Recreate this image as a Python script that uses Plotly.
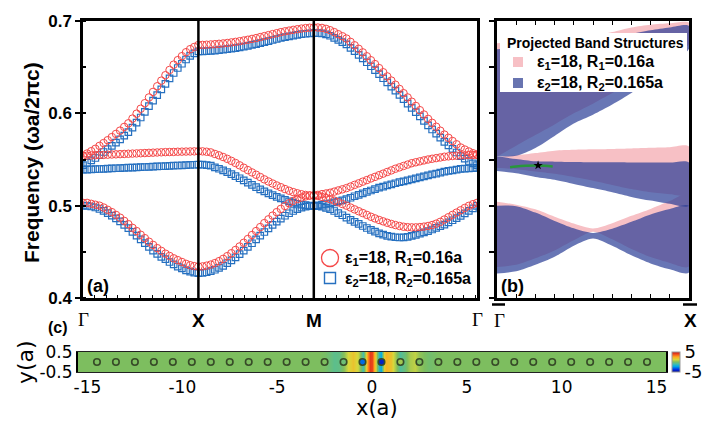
import numpy as np
import plotly.graph_objects as go

# ------------------------------------------------------------------ data
# (a) band structure along Gamma-X-M-Gamma (frequency in units of 2*pi*c/a)
sym_labels = ["Γ", "X", "M", "Γ"]
seg_len = [1.0, 1.0, float(np.sqrt(2.0))]
n_markers = [28, 28, 40]          # marker intervals per path segment

red_A_GX = [0.503, 0.503, 0.502, 0.501, 0.500, 0.498, 0.4955, 0.493, 0.490, 0.487, 0.4835, 0.480, 0.476, 0.4725, 0.4685,
            0.4648, 0.461, 0.4575, 0.454, 0.451, 0.448, 0.4455, 0.443, 0.441, 0.439, 0.437, 0.4355, 0.4345, 0.434]
red_A_XM = [0.4342, 0.4350, 0.4362, 0.4378, 0.4399, 0.4424, 0.4453, 0.4485, 0.4520, 0.4558, 0.4598, 0.4639, 0.4682, 0.4725,
            0.4768, 0.4811, 0.4852, 0.4892, 0.4930, 0.4965, 0.4997, 0.5026, 0.5051, 0.5072, 0.5088, 0.5100, 0.5108, 0.511]
red_A_MG = [0.5105, 0.5095, 0.5083, 0.507, 0.5055, 0.5037, 0.5018, 0.500, 0.498, 0.496, 0.494, 0.492, 0.490, 0.488, 0.4862,
            0.4845, 0.483, 0.4815, 0.4802, 0.479, 0.478, 0.4772, 0.4767, 0.4765, 0.4765, 0.4768, 0.4773, 0.478, 0.479, 0.4805,
            0.4825, 0.485, 0.4875, 0.490, 0.4925, 0.495, 0.4975, 0.4998, 0.5016, 0.503]
red_B_GX = [0.554, 0.5542, 0.5544, 0.5546, 0.5548, 0.555, 0.5552, 0.5554, 0.5556, 0.5558, 0.556, 0.5562, 0.5564, 0.5566, 0.5568,
            0.557, 0.5572, 0.5574, 0.5576, 0.5578, 0.558, 0.5581, 0.5582, 0.5584, 0.5585, 0.5586, 0.5587, 0.5588, 0.5589]
red_B_XM = [0.5588, 0.5584, 0.5577, 0.556, 0.5545, 0.5527, 0.5507, 0.5485, 0.5462, 0.5437, 0.5411, 0.5385, 0.536, 0.5335,
            0.531, 0.5285, 0.5262, 0.524, 0.5219, 0.520, 0.518, 0.5162, 0.5147, 0.5134, 0.5124, 0.5116, 0.5112, 0.511]
red_B_MG = [0.5117, 0.5125, 0.5132, 0.514, 0.5152, 0.5165, 0.5177, 0.519, 0.5207, 0.5225, 0.5242, 0.526, 0.5277, 0.5295,
            0.5312, 0.533, 0.5347, 0.5365, 0.5382, 0.540, 0.5415, 0.543, 0.5445, 0.546, 0.547, 0.548, 0.549, 0.550, 0.5508,
            0.5515, 0.5522, 0.553, 0.5534, 0.5538, 0.5541, 0.5545, 0.5546, 0.5548, 0.5549, 0.555]
red_C_GX = [0.554, 0.5565, 0.559, 0.5616, 0.5648, 0.5678, 0.5709, 0.5743, 0.5777, 0.5813, 0.5853, 0.5892, 0.5943, 0.5996,
            0.605, 0.611, 0.6172, 0.6232, 0.6293, 0.6354, 0.6413, 0.647, 0.6527, 0.6576, 0.6619, 0.6662, 0.6695, 0.6719, 0.674]
red_C_XM = [0.6741, 0.6743, 0.6746, 0.6749, 0.6753, 0.6757, 0.6762, 0.6768, 0.6774, 0.6781, 0.6789, 0.6797, 0.6806, 0.6815,
            0.6826, 0.6836, 0.6847, 0.6858, 0.6868, 0.6879, 0.6888, 0.6896, 0.6904, 0.6911, 0.6918, 0.6923, 0.6927, 0.693]
red_C_MG = [0.6929, 0.6925, 0.6915, 0.690, 0.688, 0.6857, 0.6835, 0.681, 0.6774, 0.6737, 0.6699, 0.666, 0.6618, 0.6575,
            0.6533, 0.649, 0.6445, 0.640, 0.6355, 0.631, 0.6264, 0.6218, 0.6172, 0.6126, 0.608, 0.6034, 0.5987, 0.594, 0.5897,
            0.5855, 0.5812, 0.577, 0.5735, 0.570, 0.5665, 0.563, 0.5608, 0.5587, 0.5568, 0.5555]

blue_A_GX = [0.500, 0.4998, 0.4991, 0.498, 0.4964, 0.4944, 0.492, 0.4893, 0.4863, 0.4829, 0.4793, 0.4756, 0.4716, 0.4676,
             0.4635, 0.4594, 0.4554, 0.4514, 0.4477, 0.4445, 0.442, 0.439, 0.4365, 0.434, 0.432, 0.430, 0.4285, 0.4275, 0.427]
blue_A_XM = [0.4272, 0.4279, 0.429, 0.4306, 0.4326, 0.4349, 0.4377, 0.4407, 0.444, 0.4476, 0.4514, 0.4553, 0.4593, 0.4634,
             0.4675, 0.4715, 0.4754, 0.4791, 0.4827, 0.486, 0.4891, 0.4918, 0.4942, 0.4962, 0.4978, 0.4989, 0.4996, 0.4998]
blue_A_MG = [0.4995, 0.4988, 0.4976, 0.4961, 0.4942, 0.492, 0.4896, 0.4871, 0.4847, 0.4824, 0.4802, 0.478, 0.4758, 0.4738,
             0.4718, 0.470, 0.4686, 0.4673, 0.4664, 0.4658, 0.4655, 0.4656, 0.4662, 0.4672, 0.4684, 0.4697, 0.4711, 0.4725,
             0.4742, 0.4759, 0.4777, 0.4795, 0.4818, 0.4842, 0.4866, 0.489, 0.4917, 0.4944, 0.497, 0.4997]
blue_B_GX = [0.539, 0.5391, 0.5393, 0.5395, 0.5397, 0.5399, 0.5401, 0.5403, 0.5405, 0.5407, 0.5409, 0.5411, 0.5413, 0.5415,
             0.5417, 0.5419, 0.5421, 0.5423, 0.5425, 0.5427, 0.5429, 0.5431, 0.5433, 0.5435, 0.5437, 0.5439, 0.5441, 0.5443, 0.5445]
blue_B_XM = [0.5444, 0.544, 0.5433, 0.5414, 0.54, 0.5382, 0.5363, 0.5342, 0.532, 0.5297, 0.5273, 0.5249, 0.5225, 0.52,
             0.5177, 0.5155, 0.5134, 0.5114, 0.5095, 0.5078, 0.5062, 0.5047, 0.5033, 0.5021, 0.5012, 0.5005, 0.5, 0.4998]
blue_B_MG = [0.5004, 0.5011, 0.5018, 0.5025, 0.5036, 0.5047, 0.5058, 0.507, 0.5086, 0.5102, 0.5117, 0.5133, 0.5149, 0.5164,
             0.518, 0.5195, 0.5207, 0.5219, 0.5231, 0.5243, 0.5254, 0.5264, 0.5275, 0.5285, 0.5296, 0.5307, 0.5317, 0.5328,
             0.5338, 0.5348, 0.5358, 0.5368, 0.5376, 0.5383, 0.5391, 0.5398, 0.5401, 0.5404, 0.5407, 0.541]
blue_C_GX = [0.544, 0.5465, 0.549, 0.5516, 0.5548, 0.5581, 0.5613, 0.5648, 0.5683, 0.5719, 0.5758, 0.5797, 0.5846, 0.5899,
             0.5955, 0.6015, 0.6077, 0.6138, 0.6198, 0.6259, 0.6319, 0.6378, 0.6437, 0.6491, 0.6537, 0.6583, 0.6622, 0.6649, 0.667]
blue_C_XM = [0.6671, 0.6674, 0.6677, 0.668, 0.6685, 0.6689, 0.6695, 0.6701, 0.6707, 0.6715, 0.6723, 0.6731, 0.6741, 0.675,
             0.6761, 0.6772, 0.6783, 0.6794, 0.6805, 0.6816, 0.6826, 0.6834, 0.6842, 0.685, 0.6857, 0.6862, 0.6867, 0.687]
blue_C_MG = [0.6869, 0.6865, 0.6855, 0.684, 0.6818, 0.6795, 0.6772, 0.6747, 0.671, 0.6673, 0.6634, 0.6595, 0.6553, 0.651,
             0.6468, 0.6425, 0.638, 0.6335, 0.629, 0.6245, 0.6199, 0.6153, 0.6106, 0.606, 0.6013, 0.5966, 0.5918, 0.587, 0.5825,
             0.5781, 0.5736, 0.5691, 0.5653, 0.5615, 0.5576, 0.5537, 0.551, 0.5484, 0.5459, 0.544]

# (b) projected band structures along Gamma_bar - X_bar (fraction of the zone)
proj_t = [0.0, 0.1, 0.2, 0.3, 0.4, 0.5, 0.6, 0.7, 0.8, 0.9, 1.0]
pink_b1_lo = [0.4335, 0.436, 0.443, 0.4515, 0.4625, 0.4718, 0.4635, 0.453, 0.4443, 0.438, 0.434]
pink_b1_hi = [0.5043, 0.501, 0.496, 0.488, 0.4806, 0.4753, 0.481, 0.489, 0.4965, 0.505, 0.513]
pink_b2_lo = [0.541, 0.5395, 0.537, 0.5345, 0.531, 0.527, 0.5225, 0.518, 0.5145, 0.5125, 0.512]
pink_b2_hi = [0.553, 0.5545, 0.557, 0.5596, 0.5605, 0.561, 0.5615, 0.562, 0.5627, 0.5633, 0.564]
pink_b3_lo = [0.553, 0.565, 0.5765, 0.588, 0.600, 0.6105, 0.622, 0.634, 0.647, 0.661, 0.675]
pink_b3_hi = [0.676, 0.677, 0.678, 0.6795, 0.681, 0.684, 0.688, 0.693, 0.696, 0.6975, 0.698]
blue_b1_lo = [0.4265, 0.429, 0.436, 0.4447, 0.4567, 0.4645, 0.4567, 0.4463, 0.4375, 0.4312, 0.4275]
blue_b1_hi = [0.500, 0.4995, 0.4925, 0.4835, 0.4755, 0.4705, 0.475, 0.4825, 0.4905, 0.4965, 0.4998]
blue_b2_lo = [0.5375, 0.535, 0.531, 0.528, 0.5235, 0.519, 0.5145, 0.5095, 0.5055, 0.502, 0.4998]
blue_b2_hi = [0.5534, 0.5505, 0.548, 0.5476, 0.5473, 0.547, 0.547, 0.5468, 0.5468, 0.5467, 0.5467]
blue_b3_lo = [0.5534, 0.554, 0.5625, 0.5755, 0.589, 0.5985, 0.6095, 0.622, 0.636, 0.652, 0.670]
blue_b3_hi = [0.6695, 0.6705, 0.6715, 0.673, 0.6745, 0.677, 0.681, 0.686, 0.690, 0.693, 0.6946]
edge_t = [0.068, 0.1, 0.15, 0.214, 0.25, 0.29]
edge_f = [0.5416, 0.5424, 0.5431, 0.5434, 0.5431, 0.5425]
star_t = [0.214]
star_f = [0.5436]

# (c) field profile along the waveguide (x in units of a), value range -5..5
field_x = [-15.5, -5.0, -4.0, -3.5, -3.0, -2.75, -2.5, -2.25, -2.0, -1.75, -1.5, -1.25, -1.0, -0.75, -0.5, -0.375,
           -0.25, -0.125, 0.0, 0.125, 0.25, 0.375, 0.5, 0.625, 0.75, 1.0, 1.25, 1.5, 1.75, 2.0, 2.25, 2.5, 2.75, 3.0,
           3.5, 4.0, 5.0, 15.5]
field_v = [0.0, 0.0, 0.0, 0.0, 0.0, 0.0, -0.1, -0.3, -0.6, -0.5, 0.2, 1.2, 1.8, 1.0, -1.0, 0.5,
           2.5, 4.2, 4.0, 2.5, 0.0, -1.5, -2.0, 1.5, 2.2, 1.8, 0.3, -0.8, -0.3, 0.6, 0.9, 0.3, 0.0, -0.2,
           0.0, 0.0, 0.0, 0.0]
field_y = [-0.5, 0.5]
rod_x = [-14.5, -13.5, -12.5, -11.5, -10.5, -9.5, -8.5, -7.5, -6.5, -5.5, -4.5, -3.5, -2.5, -1.5, -0.5,
         0.5, 1.5, 2.5, 3.5, 4.5, 5.5, 6.5, 7.5, 8.5, 9.5, 10.5, 11.5, 12.5, 13.5, 14.5]
rod_y = [0.0, 0.0, 0.0, 0.0, 0.0, 0.0, 0.0, 0.0, 0.0, 0.0, 0.0, 0.0, 0.0, 0.0, 0.0,
         0.0, 0.0, 0.0, 0.0, 0.0, 0.0, 0.0, 0.0, 0.0, 0.0, 0.0, 0.0, 0.0, 0.0, 0.0]
rod_field = [0, 0, 0, 0, 0, 0, 0, 0, 0, 0, 0, 0, 0, -0.3, -3.0,
             -4.2, 0.5, 0, 0, 0, 0, 0, 0, 0, 0, 0, 0, 0, 0, 0]
xc_ticks = [-15, -10, -5, 0, 5, 10, 15]
xc_ticktext = ["-15", "-10", "-5", "0", "5", "10", "15"]
freq_ticks = [0.4, 0.5, 0.6, 0.7]
freq_ticktext = ["0.4", "0.5", "0.6", "0.7"]

# ------------------------------------------------------------------ helpers
W, H = 706, 421
def px(x):
    return x / W
def py(y):
    return 1 - y / H

sym_k = [0.0]
for L in seg_len:
    sym_k.append(sym_k[-1] + L)
k_path = np.concatenate([
    np.linspace(sym_k[0], sym_k[1], n_markers[0] + 1),
    np.linspace(sym_k[1], sym_k[2], n_markers[1] + 1)[1:],
    np.linspace(sym_k[2], sym_k[3], n_markers[2] + 1)[1:],
])

RED = "rgb(245,72,72)"
BLUE = "rgb(38,112,192)"
PINK = "rgb(247,192,197)"
BLUE_FILL = "rgba(40,60,150,0.70)"
BOLD = "Liberation Sans, Arial, sans-serif"
DJV = "DejaVu Sans, Verdana, sans-serif"
SERIF = "Liberation Serif, Times New Roman, serif"

fig = go.Figure()

# ---- (a) squares then circles
for gx, xm, mg in [(blue_A_GX, blue_A_XM, blue_A_MG), (blue_B_GX, blue_B_XM, blue_B_MG), (blue_C_GX, blue_C_XM, blue_C_MG)]:
    fig.add_trace(go.Scatter(x=k_path, y=gx + xm + mg, mode="markers", xaxis="x", yaxis="y",
                             marker=dict(symbol="square-open", size=6.5, color=BLUE, line=dict(width=1.2)),
                             showlegend=False, hoverinfo="skip"))
for gx, xm, mg in [(red_A_GX, red_A_XM, red_A_MG), (red_B_GX, red_B_XM, red_B_MG), (red_C_GX, red_C_XM, red_C_MG)]:
    fig.add_trace(go.Scatter(x=k_path, y=gx + xm + mg, mode="markers", xaxis="x", yaxis="y",
                             marker=dict(symbol="circle-open", size=7.5, color=RED, line=dict(width=1.0)),
                             showlegend=False, hoverinfo="skip"))

# ---- (b) projected bands
def band_poly(lo, hi, color):
    return go.Scatter(x=proj_t + proj_t[::-1], y=lo + hi[::-1], mode="lines", fill="toself",
                      fillcolor=color, line=dict(width=0, shape="spline", smoothing=0.8),
                      xaxis="x2", yaxis="y2", showlegend=False, hoverinfo="skip")

for lo, hi in [(pink_b1_lo, pink_b1_hi), (pink_b2_lo, pink_b2_hi), (pink_b3_lo, pink_b3_hi)]:
    fig.add_trace(band_poly(lo, hi, PINK))
for lo, hi in [(blue_b1_lo, blue_b1_hi), (blue_b2_lo, blue_b2_hi), (blue_b3_lo, blue_b3_hi)]:
    fig.add_trace(band_poly(lo, hi, BLUE_FILL))
fig.add_trace(go.Scatter(x=edge_t, y=edge_f, mode="lines", xaxis="x2", yaxis="y2",
                         line=dict(color="rgb(40,150,60)", width=2.5, shape="spline"),
                         showlegend=False, hoverinfo="skip"))
fig.add_trace(go.Scatter(x=star_t, y=star_f, mode="markers", xaxis="x2", yaxis="y2",
                         marker=dict(symbol="star", size=7, color="black"), showlegend=False, hoverinfo="skip"))

# ---- (c) field map
cscale = [[0.0, "rgb(10,10,140)"], [0.12, "rgb(0,45,230)"], [0.28, "rgb(0,170,230)"],
          [0.40, "rgb(70,190,170)"], [0.5, "rgb(125,190,95)"], [0.62, "rgb(215,215,60)"],
          [0.75, "rgb(255,170,30)"], [0.88, "rgb(240,80,30)"], [1.0, "rgb(200,20,20)"]]
fig.add_trace(go.Heatmap(x=field_x, y=field_y, z=[field_v, field_v], zsmooth="best",
                         colorscale=cscale, zmin=-5, zmax=5, xaxis="x3", yaxis="y3", hoverinfo="skip",
                         colorbar=dict(x=px(672), xanchor="left", y=py(362), yanchor="middle",
                                       len=20, lenmode="pixels", thickness=8, thicknessmode="pixels",
                                       tickvals=[-5, 5], ticktext=["-5", "5"], ticks="",
                                       tickfont=dict(family=DJV, size=18, color="black"),
                                       outlinecolor="#999", outlinewidth=1, xpad=0, ypad=0)))
fig.add_trace(go.Scatter(x=rod_x, y=rod_y, mode="markers", xaxis="x3", yaxis="y3",
                         marker=dict(size=6.5, color=rod_field, colorscale=cscale, cmin=-5, cmax=5,
                                     line=dict(color="rgb(55,75,40)", width=1.6)),
                         showlegend=False, hoverinfo="skip"))

# ------------------------------------------------------------------ layout
frame = dict(showline=True, linewidth=2.5, linecolor="black", mirror=True, showgrid=False, zeroline=False,
             automargin=False)
fig.update_layout(
    width=W, height=H, margin=dict(l=0, r=0, t=0, b=0, pad=0, autoexpand=False),
    paper_bgcolor="white", plot_bgcolor="white", showlegend=False,
    font=dict(family=BOLD, color="black"),
    xaxis=dict(domain=[px(83), px(477)], range=[sym_k[0], sym_k[-1]], anchor="y", showticklabels=False,
               ticks="inside", tickmode="linear", tick0=0, dtick=0.1, ticklen=3, tickwidth=1, tickcolor="black", **frame),
    yaxis=dict(domain=[py(298), py(21)], range=[0.4, 0.7], anchor="x", tickmode="array",
               tickvals=freq_ticks, ticktext=freq_ticktext, ticks="outside", ticklen=5, tickwidth=2,
               tickcolor="black", tickfont=dict(family=BOLD, size=17, weight="bold"),
               minor=dict(tickmode="linear", tick0=0.4, dtick=0.05, ticks="inside", ticklen=3, tickcolor="black"),
               **frame),
    xaxis2=dict(domain=[px(497), px(689)], range=[0, 1], anchor="y2", showticklabels=False,
                ticks="inside", tickmode="linear", tick0=0, dtick=0.1, ticklen=4, tickwidth=1, tickcolor="black",
                **{**frame, "mirror": "allticks"}),
    yaxis2=dict(domain=[py(298), py(21)], range=[0.4, 0.7], anchor="x2", showticklabels=False,
                ticks="outside", tickmode="linear", tick0=0.4, dtick=0.05, ticklen=5, tickwidth=2, tickcolor="black",
                **frame),
    xaxis3=dict(domain=[px(78), px(666)], range=[-15.5, 15.5], anchor="y3", tickmode="array",
                tickvals=xc_ticks, ticktext=xc_ticktext, ticks="", tickfont=dict(family=DJV, size=17),
                showline=True, linewidth=1, linecolor="#222", mirror=True, showgrid=False, zeroline=False,
                automargin=False),
    yaxis3=dict(domain=[py(372), py(352)], range=[-0.5, 0.5], anchor="x3", tickmode="array",
                tickvals=[-0.5, 0.5], ticktext=["-0.5", "0.5"], ticks="", tickfont=dict(family=DJV, size=17),
                showline=True, linewidth=2, linecolor="black", mirror=True, showgrid=False, zeroline=False,
                automargin=False),
)

shapes = []
for kk in sym_k[1:3]:
    shapes.append(dict(type="line", xref="x", yref="y domain", x0=kk, x1=kk, y0=0, y1=1,
                       line=dict(color="black", width=2.5), layer="above"))
# bars over Gamma-bar and X-bar
shapes.append(dict(type="line", xref="paper", yref="paper", x0=px(492), x1=px(505), y0=py(304.5), y1=py(304.5),
                   line=dict(color="black", width=2.5)))
shapes.append(dict(type="line", xref="paper", yref="paper", x0=px(683), x1=px(697), y0=py(304.5), y1=py(304.5),
                   line=dict(color="black", width=2.5)))
# legend (a)
shapes.append(dict(type="circle", xref="paper", yref="paper", x0=px(321.5), x1=px(338.5), y0=py(266.5), y1=py(249.5),
                   line=dict(color=RED, width=1.3), layer="above"))
shapes.append(dict(type="rect", xref="paper", yref="paper", x0=px(324.5), x1=px(335.5), y0=py(283.5), y1=py(272.5),
                   line=dict(color=BLUE, width=1.4), layer="above"))
# legend (b)
shapes.append(dict(type="rect", xref="paper", yref="paper", x0=px(500), x1=px(687), y0=py(92), y1=py(33),
                   fillcolor="white", line=dict(width=0), layer="above"))
shapes.append(dict(type="rect", xref="paper", yref="paper", x0=px(513), x1=px(523), y0=py(67), y1=py(57),
                   fillcolor=PINK, line=dict(width=0), layer="above"))
shapes.append(dict(type="rect", xref="paper", yref="paper", x0=px(513), x1=px(523), y0=py(88), y1=py(78),
                   fillcolor="rgb(104,116,176)", line=dict(width=0), layer="above"))
fig.update_layout(shapes=shapes)

ann = []
def A(text, x, y, size, family=BOLD, bold=True, xanchor="center", yanchor="middle", xref="paper", angle=0):
    ann.append(dict(text=text, x=x, y=y, xref=xref, yref="paper", showarrow=False, xanchor=xanchor,
                    yanchor=yanchor, textangle=angle,
                    font=dict(family=family, size=size, color="black", weight="bold" if bold else "normal")))

A("Frequency (ωa/2πc)", px(32), py(163), 21, angle=-90)
for kk, lab in zip(sym_k, sym_labels):
    if lab == "Γ":
        A(lab, kk, py(319), 19, family=SERIF, bold=False, xref="x")
    else:
        A(lab, kk, py(320), 19, xref="x")
A("Γ", px(499), py(320), 19, family=SERIF, bold=False)
A("X", px(690), py(320), 19)
A("(a)", px(98), py(286), 18)
A("(b)", px(512), py(286), 18)
A("(c)", px(58), py(327), 16)
A("ε<sub>1</sub>=18, R<sub>1</sub>=0.16a", px(343), py(258), 16, xanchor="left")
A("ε<sub>2</sub>=18, R<sub>2</sub>=0.165a", px(343), py(279), 16, xanchor="left")
A("Projected Band Structures", px(595), py(42.5), 14)
A("ε<sub>1</sub>=18, R<sub>1</sub>=0.16a", px(535), py(62), 16, xanchor="left")
A("ε<sub>2</sub>=18, R<sub>2</sub>=0.165a", px(535), py(83), 16, xanchor="left")
A("x(a)", px(377), py(408), 21, family=DJV, bold=False)
A("y(a)", px(25), py(362), 22, family=DJV, bold=False, angle=-90)
fig.update_layout(annotations=ann)

fig.write_html("out.html")
